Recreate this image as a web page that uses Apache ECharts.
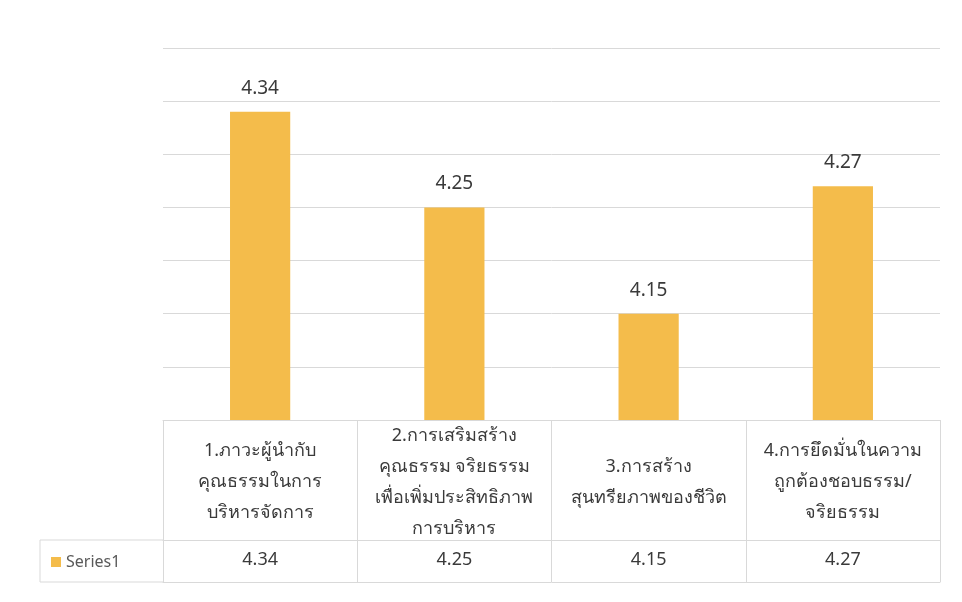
<!DOCTYPE html>
<html><head><meta charset="utf-8">
<script src="https://cdn.jsdelivr.net/npm/echarts@6/dist/echarts.min.js"></script>
<style>html,body{margin:0;padding:0;background:#fff}#c{width:962px;height:602px}</style>
</head><body><div id="c"></div>
<script>
const categories = [
  "1.ภาวะผู้นำกับ\nคุณธรรมในการ\nบริหารจัดการ",
  "2.การเสริมสร้าง\nคุณธรรม จริยธรรม\nเพื่อเพิ่มประสิทธิภาพ\nการบริหาร",
  "3.การสร้าง\nสุนทรียภาพของชีวิต",
  "4.การยึดมั่นในความ\nถูกต้องชอบธรรม/\nจริยธรรม"
];
const seriesName = "Series1";
const values = [4.34, 4.25, 4.15, 4.27];
const valueLabels = ["4.34", "4.25", "4.15", "4.27"];

const chart = echarts.init(document.getElementById('c'));
const font = '"Noto Sans", "DejaVu Sans", sans-serif';
const lineCol = '#d9d9d9';
const textCol = '#3a3a3a';
chart.setOption({
  animation: false,
  textStyle: { fontFamily: font },
  legend: {
    data: [seriesName], left: 46, top: 549, itemWidth: 10, itemHeight: 10, icon: 'rect', itemGap: 6,
    textStyle: { fontSize: 16, color: '#595959' }
  },
  grid: { left: 163, right: 22, top: 48, bottom: 182 },
  xAxis: [
    { type: 'category', data: categories, position: 'bottom',
      axisLine: { show: true, lineStyle: { color: lineCol } },
      axisTick: { show: true, length: 162, lineStyle: { color: lineCol } },
      axisLabel: { interval: 0, margin: 62, verticalAlign: 'middle', fontSize: 18, lineHeight: 31, color: textCol } },
    { type: 'category', data: valueLabels, position: 'bottom', offset: 120,
      axisLine: { show: true, lineStyle: { color: lineCol } },
      axisTick: { show: false },
      axisLabel: { interval: 0, margin: 20, verticalAlign: 'middle', fontSize: 18, color: textCol } },
    { type: 'category', data: valueLabels, position: 'bottom', offset: 162,
      axisLine: { show: true, lineStyle: { color: lineCol } },
      axisTick: { show: false }, axisLabel: { show: false } }
  ],
  yAxis: { type: 'value', min: 4.05, max: 4.40, interval: 0.05,
    axisLabel: { show: false }, axisLine: { show: false }, axisTick: { show: false },
    splitLine: { lineStyle: { color: lineCol } } },
  series: [{
    name: seriesName, type: 'bar', data: values, barWidth: '31%',
    itemStyle: { color: '#F4BC4B' },
    label: { show: true, position: 'top', distance: 14, fontSize: 19, color: textCol, formatter: p => p.value.toFixed(2) }
  }],
  graphic: [
    { type: 'line', shape: { x1: 40, y1: 540, x2: 163, y2: 540 }, style: { stroke: lineCol, lineWidth: 1 } },
    { type: 'line', shape: { x1: 40, y1: 582, x2: 163, y2: 582 }, style: { stroke: lineCol, lineWidth: 1 } },
    { type: 'line', shape: { x1: 40, y1: 540, x2: 40, y2: 582 }, style: { stroke: lineCol, lineWidth: 1 } }
  ]
});
</script></body></html>
